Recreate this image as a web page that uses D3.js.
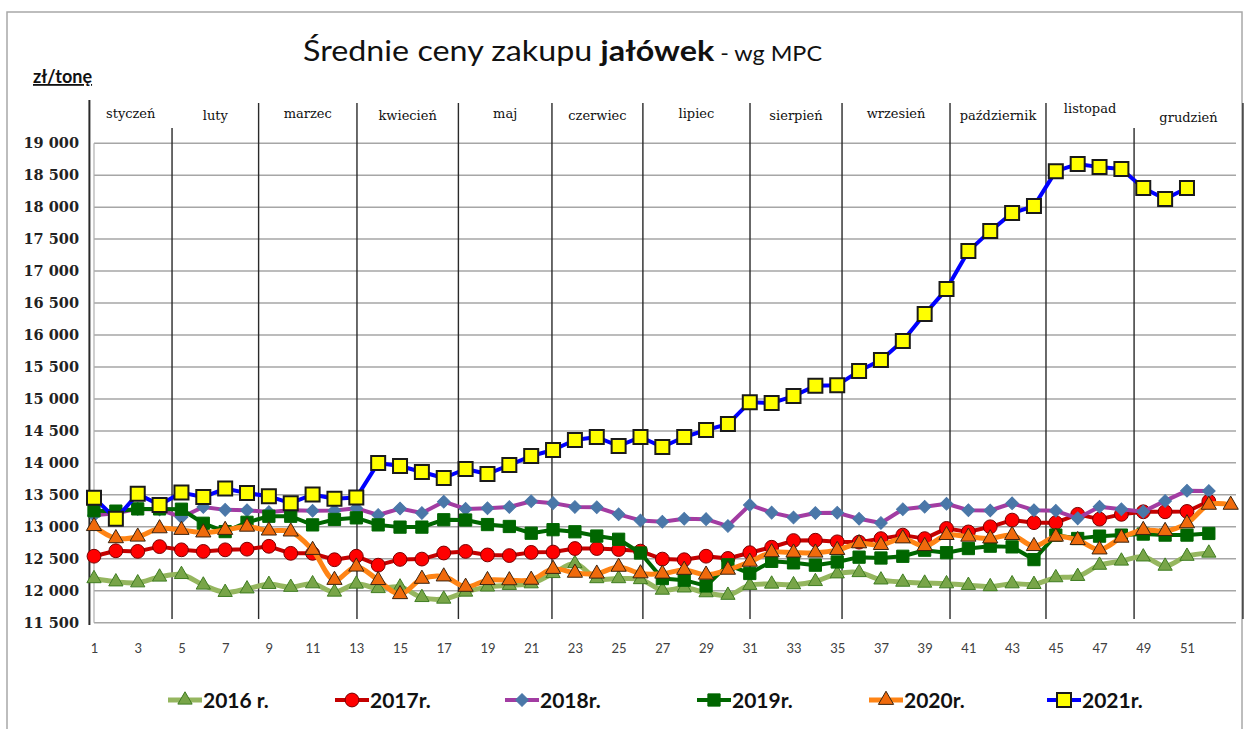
<!DOCTYPE html>
<html>
<head>
<meta charset="utf-8">
<script src="https://cdn.jsdelivr.net/npm/d3@7"></script>
<style>
  body { margin: 0; background: #fff; }
  svg { display: block; }
</style>
</head>
<body>
<div id="chart"></div>
<script>
// weeks 1..53
var weeks = d3.range(1, 54);
var yTicks = d3.range(11500, 19001, 500);
var xTickWeeks = d3.range(1, 52, 2);

var months = ["styczeń", "luty", "marzec", "kwiecień", "maj", "czerwiec", "lipiec",
  "sierpień", "wrzesień", "październik", "listopad", "grudzień"];
// month boundaries expressed in week units
var monthBounds = [0.79, 4.57, 8.53, 13.03, 17.67, 21.95, 26.11, 31.01, 35.22, 40.16, 44.55, 48.58, 53.56];

var s2016 = [12190, 12140, 12125, 12215, 12255, 12090, 11975, 12030, 12100, 12055, 12110, 11980, 12105,
  12035, 12060, 11895, 11870, 11980, 12060, 12085, 12110, 12270, 12425, 12190, 12190, 12175,
  12010, 12045, 11970, 11930, 12085, 12105, 12095, 12145, 12265, 12285, 12170, 12135, 12120,
  12110, 12085, 12065, 12110, 12100, 12205, 12225, 12400, 12465, 12530, 12385, 12540, 12590];
var s2017 = [12540, 12625, 12615, 12690, 12640, 12615, 12640, 12650, 12695, 12585, 12585, 12485, 12540,
  12400, 12490, 12495, 12590, 12615, 12560, 12550, 12600, 12605, 12660, 12660, 12645, 12620,
  12495, 12485, 12540, 12505, 12595, 12680, 12785, 12790, 12765, 12760, 12815, 12870, 12815,
  12975, 12920, 13000, 13105, 13065, 13065, 13195, 13120, 13195, 13235, 13235, 13240, 13400];
var s2018 = [13180, 13210, 13280, 13270, 13150, 13310, 13265, 13260, 13230, 13260, 13250, 13255, 13290,
  13185, 13285, 13215, 13393, 13280, 13290, 13310, 13400, 13370, 13310, 13306, 13195, 13100,
  13080, 13125, 13120, 13012, 13342, 13222, 13145, 13215, 13220, 13125, 13060, 13275, 13315,
  13360, 13260, 13255, 13368, 13260, 13250, 13132, 13315, 13274, 13237, 13405, 13565, 13560];
var s2019 = [13250, 13245, 13280, 13280, 13275, 13055, 12925, 13070, 13165, 13165, 13030, 13115, 13140,
  13030, 12995, 12995, 13110, 13106, 13035, 13005, 12900, 12955, 12922, 12855, 12805, 12590,
  12190, 12165, 12075, 12405, 12270, 12460, 12436, 12400, 12450, 12525, 12512, 12539, 12634,
  12595, 12660, 12697, 12686, 12487, 12870, 12817, 12854, 12870, 12886, 12870, 12870, 12896];
var s2020 = [13010, 12820, 12845, 12975, 12950, 12910, 12950, 13000, 12940, 12925, 12637, 12168, 12376,
  12165, 11945, 12185, 12222, 12060, 12165, 12162, 12170, 12340, 12280, 12266, 12373, 12270,
  12266, 12325, 12250, 12327, 12452, 12600, 12595, 12595, 12636, 12740, 12714, 12817, 12697,
  12870, 12844, 12817, 12870, 12697, 12844, 12791, 12644, 12828, 12949, 12933, 13054, 13343, 13343];
var s2021 = [13455, 13125, 13515, 13340, 13535, 13465, 13598, 13527, 13477, 13370, 13505, 13440, 13457,
  13998, 13951, 13857, 13763, 13904, 13826, 13966, 14107, 14201, 14357, 14404, 14264, 14404,
  14248, 14404, 14514, 14607, 14950, 14935, 15045, 15205, 15215, 15436, 15608, 15905, 16327,
  16718, 17312, 17625, 17907, 18016, 18563, 18673, 18626, 18595, 18298, 18126, 18298];

var seriesNames = ["2016 r.", "2017r.", "2018r.", "2019r.", "2020r.", "2021r."];
var seriesValues = [s2016, s2017, s2018, s2019, s2020, s2021];

// styles per series
var styles = [
  { line: "#95b65f", lw: 5, smooth: true, shape: "tri", fill: "#78a548", stroke: "#3f7d22", size: 88 },
  { line: "#c40000", lw: 4, smooth: false, shape: "circle", fill: "#ff0000", stroke: "#7a0000", size: 150 },
  { line: "#a23ca2", lw: 4, smooth: false, shape: "diamond", fill: "#4a77a8", stroke: "#4a77a8", size: 80 },
  { line: "#006600", lw: 4, smooth: false, shape: "square", fill: "#006600", stroke: "#006600", size: 150 },
  { line: "#ff8415", lw: 5, smooth: true, shape: "tri", fill: "#f06a0c", stroke: "#3a2410", size: 100 },
  { line: "#0000ff", lw: 4, smooth: false, shape: "square", fill: "#ffff00", stroke: "#1a1a1a", size: 196 }
];

var W = 1244, H = 729;
var svg = d3.select("#chart").append("svg")
  .attr("width", W)
  .attr("height", H);

// outer frame
svg.append("rect")
  .attr("x", 7).attr("y", 12)
  .attr("width", 1235).attr("height", 740)
  .attr("fill", "none")
  .attr("stroke", "#a8a8a8")
  .attr("stroke-width", 1.5);

var x = d3.scaleLinear().domain([1, 53]).range([94, 1230.7]);
var y = d3.scaleLinear().domain([11500, 19000]).range([622.7, 143.2]);

// title
var title = svg.append("text")
  .attr("x", 303).attr("y", 61)
  .attr("textLength", 519)
  .attr("lengthAdjust", "spacingAndGlyphs")
  .style("font-family", "Lato, sans-serif")
  .style("font-size", "29px")
  .attr("fill", "#111");
title.append("tspan").text("Średnie ceny zakupu ");
title.append("tspan").style("font-weight", "bold").text("jałówek");
title.append("tspan").style("font-size", "21px").text(" - wg MPC");

svg.append("text")
  .attr("x", 33).attr("y", 83)
  .style("font-family", "Lato, sans-serif")
  .style("font-weight", "bold")
  .style("font-size", "18px")
  .style("text-decoration", "underline")
  .attr("fill", "#111")
  .text("zł/tonę");

// horizontal gridlines
svg.append("g")
  .selectAll("line")
  .data(yTicks)
  .enter().append("line")
  .attr("x1", 94).attr("x2", 1236)
  .attr("y1", function (d) { return y(d); })
  .attr("y2", function (d) { return y(d); })
  .attr("stroke", "#a6a6a6")
  .attr("stroke-width", 1.5);

// plot left border
svg.append("line")
  .attr("x1", 94).attr("x2", 94)
  .attr("y1", y(19000)).attr("y2", y(11500))
  .attr("stroke", "#b0b0b0").attr("stroke-width", 1.2);

// y axis labels
var yAxis = svg.append("g")
  .attr("transform", "translate(79,0)")
  .call(d3.axisLeft(y).tickValues(yTicks).tickSize(0).tickPadding(0)
    .tickFormat(function (d) { return d3.format(",")(d).replace(",", " "); }));
yAxis.select(".domain").remove();
yAxis.selectAll("text")
  .style("font-family", "'DejaVu Serif', serif")
  .style("font-weight", "bold")
  .style("font-size", "14.5px")
  .attr("fill", "#222");

// x axis labels
var xAxis = svg.append("g")
  .attr("transform", "translate(0,640)")
  .call(d3.axisBottom(x).tickValues(xTickWeeks).tickSize(0).tickPadding(4)
    .tickFormat(d3.format("d")));
xAxis.select(".domain").remove();
xAxis.selectAll("text")
  .style("font-family", "Lato, sans-serif")
  .style("font-size", "13px")
  .attr("fill", "#404040");

// month separator lines
var lineTop = function (i) { return (i === 1 || i === 11) ? 128 : (i === 0 ? 100 : 103); };
svg.append("g")
  .selectAll("line")
  .data(monthBounds)
  .enter().append("line")
  .attr("x1", function (d) { return x(d); })
  .attr("x2", function (d) { return x(d); })
  .attr("y1", function (d, i) { return lineTop(i); })
  .attr("y2", function (d, i) { return i === 0 ? 625 : 619; })
  .attr("stroke", "#2a2a2a")
  .attr("stroke-width", function (d, i) { return i === 0 ? 2 : 1.4; });

// month labels
svg.append("g")
  .selectAll("text")
  .data(months)
  .enter().append("text")
  .attr("x", function (d, i) { return (x(monthBounds[i]) + x(monthBounds[i + 1])) / 2; })
  .attr("y", function (d, i) { return i === 10 ? 113 : (i === 11 ? 122 : (i % 2 ? 120 : 118)); })
  .attr("text-anchor", "middle")
  .style("font-family", "'DejaVu Serif', serif")
  .style("font-size", "13px")
  .attr("fill", "#111")
  .text(function (d) { return d; });

function markerPath(st) {
  if (st.shape === "tri") return d3.symbol().type(d3.symbolTriangle).size(st.size)();
  if (st.shape === "circle") return d3.symbol().type(d3.symbolCircle).size(st.size)();
  return d3.symbol().type(d3.symbolSquare).size(st.size)();
}

function drawMarker(sel, st) {
  sel.append("path")
    .attr("d", markerPath(st))
    .attr("transform", function (d) {
      return "translate(" + d[0] + "," + d[1] + ")" + (st.shape === "diamond" ? " rotate(45)" : "");
    })
    .attr("fill", st.fill)
    .attr("stroke", st.stroke)
    .attr("stroke-width", st.shape === "square" && st.fill === "#ffff00" ? 2 : 1);
}

// series
seriesValues.forEach(function (vals, si) {
  var st = styles[si];
  var pts = vals.map(function (v, i) { return [x(weeks[i]), y(v)]; });
  var g = svg.append("g").attr("class", "series");
  var line = d3.line().curve(st.smooth ? d3.curveCatmullRom.alpha(0.5) : d3.curveLinear);
  g.append("path")
    .attr("d", line(pts))
    .attr("fill", "none")
    .attr("stroke", st.line)
    .attr("stroke-width", st.lw)
    .attr("stroke-linejoin", "round");
  var m = g.selectAll("g.m").data(pts).enter().append("g").attr("class", "m");
  drawMarker(m, st);
});

// legend
var legendX = [185, 352, 522, 714, 886, 1064];
var leg = svg.append("g");
seriesNames.forEach(function (name, i) {
  var st = styles[i];
  var cx = legendX[i], cy = 700;
  leg.append("line")
    .attr("x1", cx - 17).attr("x2", cx + 17)
    .attr("y1", cy).attr("y2", cy)
    .attr("stroke", st.line).attr("stroke-width", st.lw);
  var mg = leg.append("g").datum([cx, cy]);
  var p = mg.selectAll("p").data([[cx, cy]]).enter().append("g");
  drawMarker(p, st);
  leg.append("text")
    .attr("x", cx + 18).attr("y", cy + 8)
    .style("font-family", "Lato, sans-serif")
    .style("font-weight", "bold")
    .style("font-size", "21px")
    .attr("fill", "#111")
    .text(name);
});
</script>
</body>
</html>
